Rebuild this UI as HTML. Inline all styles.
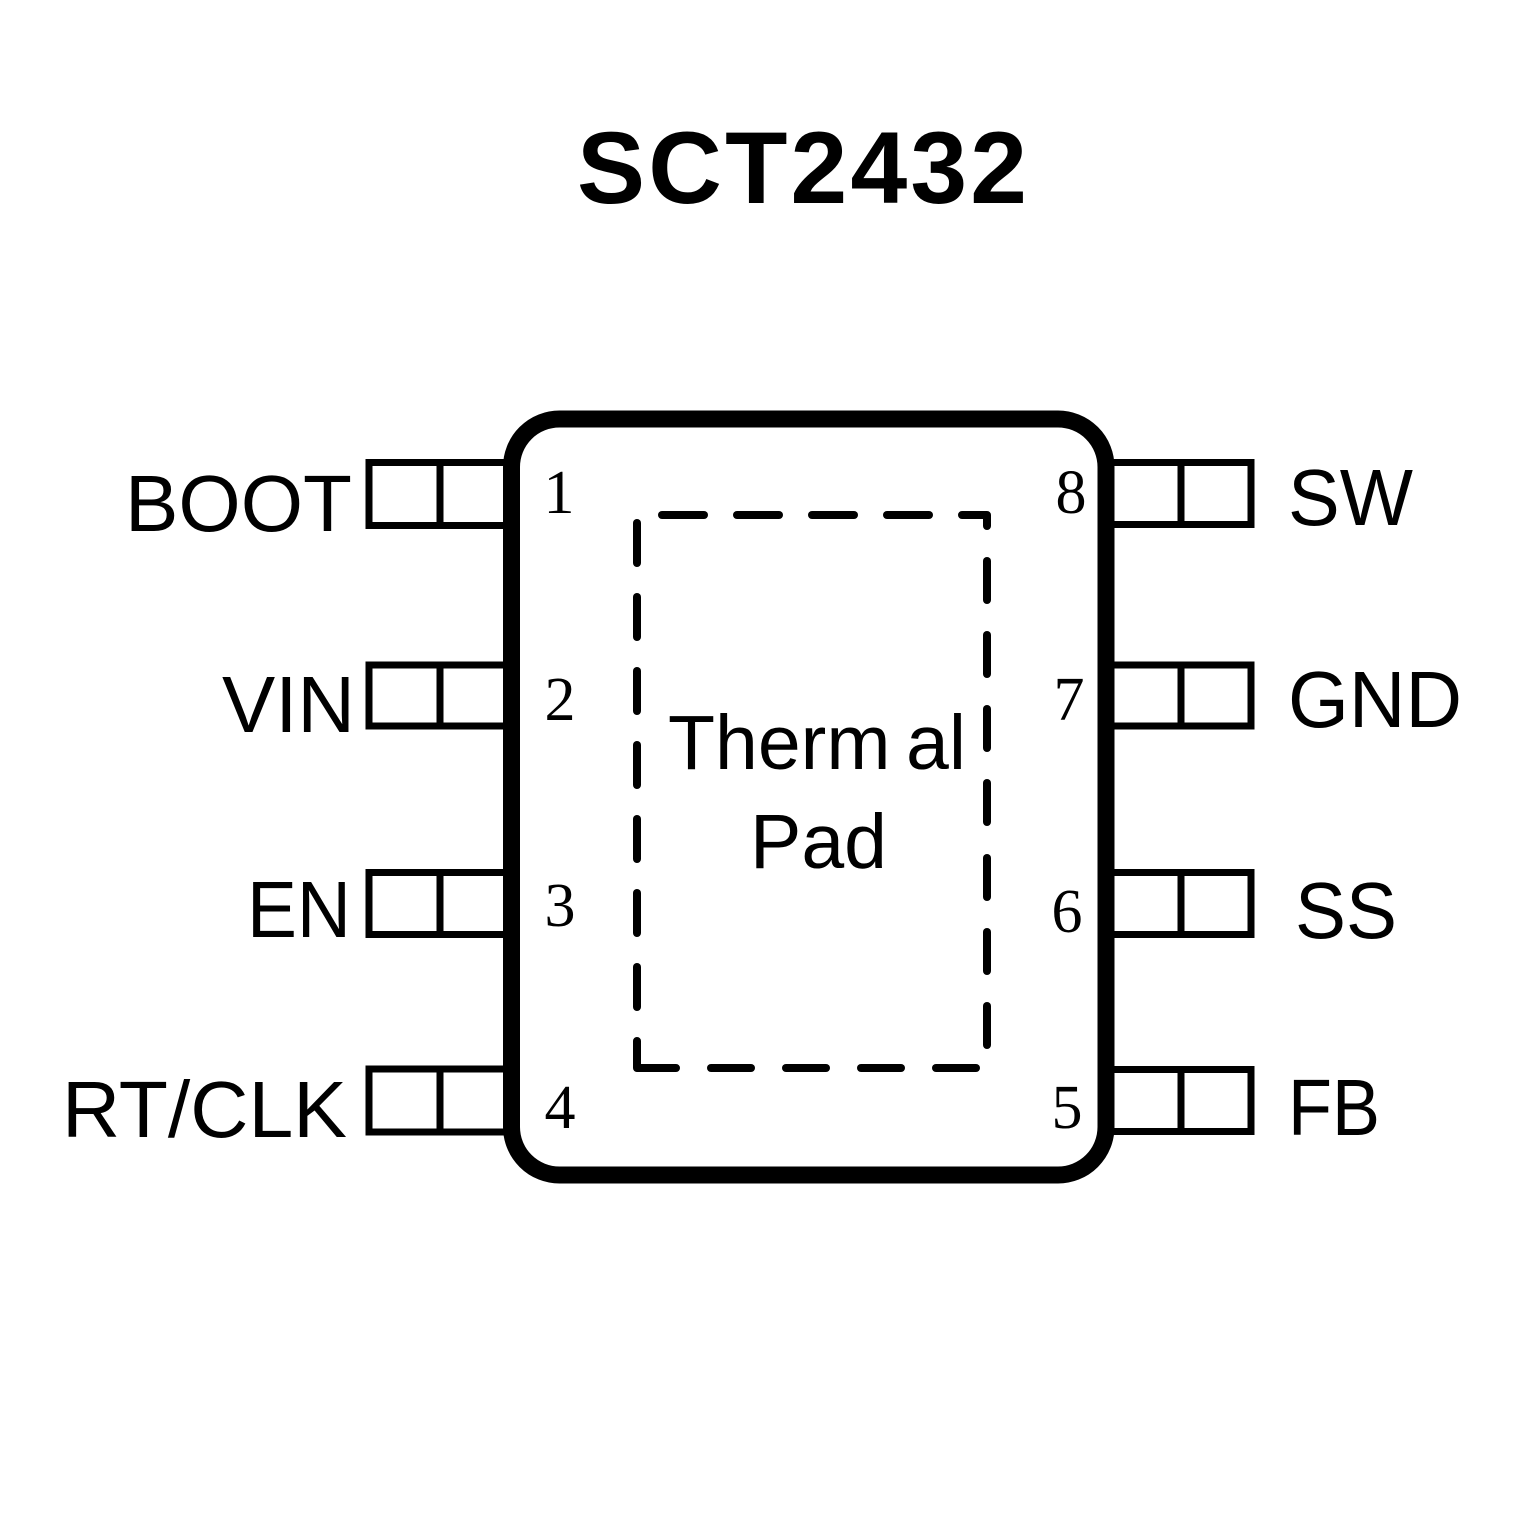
<!DOCTYPE html>
<html>
<head>
<meta charset="utf-8">
<style>
  html, body { margin: 0; padding: 0; background: #ffffff; }
  body { width: 1535px; height: 1535px; overflow: hidden; }
  svg { display: block; }
  .lbl { font-family: "Liberation Sans", Arial, sans-serif; font-size: 80px; fill: #000; }
  .num { font-family: "Liberation Serif", "Times New Roman", serif; font-size: 62px; fill: #000; }
</style>
</head>
<body>
<svg width="1535" height="1535" viewBox="0 0 1535 1535" xmlns="http://www.w3.org/2000/svg">
  <rect x="0" y="0" width="1535" height="1535" fill="#ffffff"/>

  <!-- Title -->
  <text x="577" y="203" textLength="450" lengthAdjust="spacing" font-family="'Liberation Sans', Arial, sans-serif" font-weight="bold" font-size="102" fill="#000">SCT2432</text>

  <!-- Left pins -->
  <g fill="none" stroke="#000" stroke-width="7" stroke-linejoin="miter">
    <rect x="369" y="462.5" width="140" height="63"/>
    <line x1="440" y1="462.5" x2="440" y2="525.5"/>
    <rect x="369" y="665" width="140" height="61"/>
    <line x1="440" y1="665" x2="440" y2="726"/>
    <rect x="369" y="872.5" width="140" height="62"/>
    <line x1="440" y1="872.5" x2="440" y2="934.5"/>
    <rect x="369" y="1069" width="140" height="63"/>
    <line x1="440" y1="1069" x2="440" y2="1132"/>
  </g>

  <!-- Right pins -->
  <g fill="none" stroke="#000" stroke-width="7" stroke-linejoin="miter">
    <rect x="1108" y="462.5" width="143" height="62"/>
    <line x1="1181" y1="462.5" x2="1181" y2="524.5"/>
    <rect x="1108" y="665" width="143" height="61"/>
    <line x1="1181" y1="665" x2="1181" y2="726"/>
    <rect x="1108" y="872.5" width="143" height="62"/>
    <line x1="1181" y1="872.5" x2="1181" y2="934.5"/>
    <rect x="1108" y="1069.5" width="143" height="62"/>
    <line x1="1181" y1="1069.5" x2="1181" y2="1131.5"/>
  </g>

  <!-- Body -->
  <rect x="511.5" y="419" width="594.5" height="756" rx="48" ry="48" fill="#ffffff" stroke="#000" stroke-width="17"/>

  <!-- Thermal pad dashed outline -->
  <g fill="none" stroke="#000" stroke-width="8" stroke-linecap="round" stroke-linejoin="round">
    <!-- top -->
    <line x1="662" y1="515" x2="704" y2="515"/>
    <line x1="737" y1="515" x2="779" y2="515"/>
    <line x1="812" y1="515" x2="854" y2="515"/>
    <line x1="887" y1="515" x2="929" y2="515"/>
    <polyline points="962,515 987,515 987,526"/>
    <!-- right -->
    <line x1="987" y1="561" x2="987" y2="600"/>
    <line x1="987" y1="635" x2="987" y2="674"/>
    <line x1="987" y1="709" x2="987" y2="748"/>
    <line x1="987" y1="783" x2="987" y2="822"/>
    <line x1="987" y1="858" x2="987" y2="897"/>
    <line x1="987" y1="932" x2="987" y2="971"/>
    <line x1="987" y1="1006" x2="987" y2="1045"/>
    <!-- bottom -->
    <line x1="976" y1="1068" x2="936" y2="1068"/>
    <line x1="901" y1="1068" x2="861" y2="1068"/>
    <line x1="826" y1="1068" x2="786" y2="1068"/>
    <line x1="751" y1="1068" x2="711" y2="1068"/>
    <polyline points="676,1068 637,1068 637,1041"/>
    <!-- left -->
    <line x1="637" y1="523" x2="637" y2="563"/>
    <line x1="637" y1="597" x2="637" y2="637"/>
    <line x1="637" y1="671" x2="637" y2="711"/>
    <line x1="637" y1="745" x2="637" y2="785"/>
    <line x1="637" y1="819" x2="637" y2="859"/>
    <line x1="637" y1="893" x2="637" y2="933"/>
    <line x1="637" y1="967" x2="637" y2="1007"/>
  </g>

  <!-- Thermal Pad text -->
  <text class="lbl" x="668" y="769" style="font-size:77px">Therm</text>
  <text class="lbl" x="906" y="769" style="font-size:77px">al</text>
  <text class="lbl" x="750" y="868" style="font-size:77px">Pad</text>

  <!-- Left labels -->
  <text class="lbl" x="125" y="531" textLength="227" lengthAdjust="spacingAndGlyphs">BOOT</text>
  <text class="lbl" x="222" y="732" textLength="133" lengthAdjust="spacingAndGlyphs">VIN</text>
  <text class="lbl" x="247" y="937" textLength="104" lengthAdjust="spacingAndGlyphs">EN</text>
  <text class="lbl" x="62" y="1137" textLength="285" lengthAdjust="spacingAndGlyphs">RT/CLK</text>

  <!-- Right labels -->
  <text class="lbl" x="1288" y="525" textLength="125" lengthAdjust="spacingAndGlyphs">SW</text>
  <text class="lbl" x="1288" y="727" textLength="174" lengthAdjust="spacingAndGlyphs">GND</text>
  <text class="lbl" x="1295" y="938" textLength="102" lengthAdjust="spacingAndGlyphs">SS</text>
  <text class="lbl" x="1288" y="1135" textLength="92" lengthAdjust="spacingAndGlyphs">FB</text>

  <!-- Pin numbers -->
  <g class="num" text-anchor="middle">
    <text x="559" y="513">1</text>
    <text x="560" y="720">2</text>
    <text x="560" y="926">3</text>
    <text x="560" y="1128">4</text>
    <text x="1071" y="513">8</text>
    <text x="1069" y="720">7</text>
    <text x="1067" y="932">6</text>
    <text x="1067" y="1128">5</text>
  </g>
</svg>
</body>
</html>
